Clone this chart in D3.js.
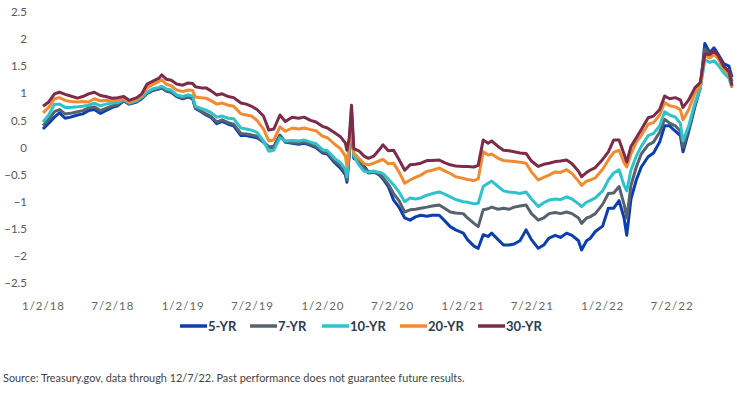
<!DOCTYPE html>
<html>
<head>
<meta charset="utf-8">
<script src="https://cdn.jsdelivr.net/npm/d3@7"></script>
<style>
  body { margin: 0; background: #fff; }
  svg { display: block; font-family: Lato, "Open Sans", sans-serif; }
</style>
</head>
<body>
<script>
var dates = ["2018-01-02","2018-01-17","2018-02-01","2018-02-14","2018-03-01","2018-03-15","2018-04-02","2018-04-16","2018-05-01","2018-05-16",
  "2018-06-01","2018-06-15","2018-07-02","2018-07-16","2018-08-01","2018-08-15","2018-09-04","2018-09-17","2018-10-01","2018-10-15",
  "2018-11-01","2018-11-08","2018-11-20","2018-12-03","2018-12-17","2019-01-02","2019-01-16","2019-01-28","2019-02-04","2019-02-19",
  "2019-03-04","2019-03-18","2019-04-01","2019-04-15","2019-05-01","2019-05-15","2019-06-03","2019-06-17","2019-07-01","2019-07-15",
  "2019-08-01","2019-08-15","2019-08-28","2019-09-13","2019-09-27","2019-10-15","2019-11-01","2019-11-15","2019-12-02","2019-12-16",
  "2020-01-02","2020-01-15","2020-02-03","2020-02-18","2020-03-02","2020-03-06","2020-03-12","2020-03-18","2020-03-24","2020-04-06",
  "2020-04-20","2020-05-01","2020-05-15","2020-06-01","2020-06-08","2020-06-22","2020-07-06","2020-07-20","2020-08-04","2020-08-18",
  "2020-09-01","2020-09-15","2020-10-01","2020-10-15","2020-11-02","2020-11-16","2020-12-01","2020-12-15","2021-01-04","2021-01-15",
  "2021-02-01","2021-02-12","2021-02-25","2021-03-10","2021-03-19","2021-04-05","2021-04-19","2021-05-03","2021-05-17","2021-06-01",
  "2021-06-17","2021-07-01","2021-07-19","2021-08-02","2021-08-16","2021-09-01","2021-09-15","2021-10-01","2021-10-15","2021-11-01",
  "2021-11-09","2021-11-22","2021-12-01","2021-12-15","2022-01-03","2022-01-18","2022-02-01","2022-02-15","2022-02-28","2022-03-07",
  "2022-03-18","2022-04-01","2022-04-14","2022-05-02","2022-05-16","2022-06-01","2022-06-14","2022-06-27","2022-07-12","2022-07-25",
  "2022-08-01","2022-08-16","2022-09-01","2022-09-15","2022-09-27","2022-10-10","2022-10-21","2022-11-01","2022-11-15","2022-11-29",
  "2022-12-07"]

var yr5 = [0.34,0.45,0.56,0.64,0.54,0.56,0.60,0.62,0.68,0.70,
  0.63,0.68,0.74,0.77,0.86,0.80,0.84,0.90,1.00,1.05,
  1.08,1.10,1.04,1.02,0.94,0.90,0.93,0.90,0.72,0.66,
  0.60,0.55,0.44,0.48,0.43,0.40,0.22,0.22,0.20,0.18,
  0.10,0.01,0.02,0.23,0.10,0.08,0.06,0.08,0.04,0.00,
  -0.10,-0.12,-0.28,-0.38,-0.50,-0.64,-0.15,0.55,-0.20,-0.25,
  -0.35,-0.45,-0.44,-0.52,-0.58,-0.72,-0.97,-1.10,-1.30,-1.34,
  -1.28,-1.25,-1.27,-1.25,-1.25,-1.35,-1.46,-1.52,-1.58,-1.70,
  -1.82,-1.86,-1.61,-1.64,-1.58,-1.70,-1.80,-1.80,-1.78,-1.72,
  -1.52,-1.70,-1.86,-1.80,-1.67,-1.62,-1.66,-1.58,-1.62,-1.72,
  -1.89,-1.72,-1.68,-1.55,-1.45,-1.12,-1.12,-0.98,-1.30,-1.62,
  -0.95,-0.60,-0.36,-0.17,-0.10,0.10,0.40,0.40,0.30,0.22,
  -0.08,0.30,0.75,1.10,1.92,1.75,1.84,1.72,1.55,1.50,
  1.30]

var yr7 = [0.40,0.52,0.66,0.70,0.62,0.63,0.66,0.68,0.73,0.75,
  0.68,0.72,0.77,0.79,0.87,0.81,0.85,0.91,1.00,1.06,
  1.09,1.11,1.05,1.03,0.95,0.91,0.94,0.91,0.73,0.67,
  0.62,0.57,0.47,0.51,0.46,0.43,0.26,0.25,0.23,0.21,
  0.10,0.00,0.00,0.22,0.10,0.09,0.08,0.10,0.06,0.02,
  -0.08,-0.10,-0.25,-0.34,-0.46,-0.60,-0.10,0.58,-0.18,-0.27,
  -0.38,-0.47,-0.46,-0.50,-0.55,-0.68,-0.85,-0.98,-1.19,-1.15,
  -1.14,-1.12,-1.10,-1.08,-1.06,-1.12,-1.19,-1.21,-1.22,-1.30,
  -1.40,-1.46,-1.15,-1.13,-1.10,-1.14,-1.12,-1.14,-1.10,-1.08,
  -1.06,-1.22,-1.34,-1.30,-1.22,-1.20,-1.22,-1.19,-1.22,-1.30,
  -1.40,-1.30,-1.28,-1.22,-1.05,-0.85,-0.84,-0.72,-1.05,-1.30,
  -0.70,-0.36,-0.12,0.05,0.10,0.28,0.52,0.45,0.40,0.30,
  0.01,0.35,0.78,1.10,1.82,1.70,1.78,1.66,1.48,1.42,
  1.22]

var yr10 = [0.47,0.60,0.80,0.80,0.74,0.74,0.75,0.76,0.78,0.82,
  0.77,0.80,0.82,0.83,0.88,0.82,0.86,0.93,1.02,1.08,
  1.11,1.13,1.08,1.06,0.97,0.94,0.97,0.95,0.76,0.72,
  0.69,0.64,0.56,0.58,0.54,0.53,0.36,0.34,0.32,0.28,
  0.12,-0.07,-0.05,0.18,0.12,0.13,0.12,0.14,0.10,0.07,
  -0.04,-0.06,-0.20,-0.28,-0.40,-0.54,-0.05,0.62,-0.15,-0.32,
  -0.44,-0.45,-0.44,-0.46,-0.48,-0.58,-0.69,-0.82,-1.00,-0.93,
  -0.95,-0.93,-0.88,-0.85,-0.82,-0.86,-0.91,-0.96,-1.00,-1.01,
  -1.04,-1.03,-0.72,-0.66,-0.62,-0.72,-0.80,-0.82,-0.83,-0.85,
  -0.82,-0.95,-1.09,-1.02,-0.97,-0.95,-0.96,-0.91,-0.95,-1.04,
  -1.09,-1.01,-0.98,-0.93,-0.80,-0.60,-0.47,-0.41,-0.70,-0.80,
  -0.42,-0.16,0.02,0.22,0.26,0.40,0.66,0.60,0.56,0.45,
  0.12,0.40,0.82,1.08,1.62,1.57,1.60,1.52,1.38,1.28,
  1.10]

var yr20 = [0.64,0.74,0.90,0.92,0.87,0.85,0.84,0.85,0.84,0.90,
  0.86,0.87,0.86,0.88,0.90,0.84,0.89,0.96,1.10,1.16,
  1.22,1.25,1.17,1.14,1.06,1.03,1.06,1.05,0.93,0.92,
  0.91,0.86,0.80,0.82,0.78,0.76,0.62,0.60,0.58,0.50,
  0.34,0.12,0.14,0.38,0.30,0.36,0.34,0.36,0.33,0.31,
  0.21,0.18,0.06,-0.02,-0.16,-0.35,0.05,0.70,-0.10,-0.20,
  -0.30,-0.32,-0.29,-0.24,-0.22,-0.30,-0.29,-0.45,-0.66,-0.60,
  -0.55,-0.51,-0.44,-0.42,-0.38,-0.43,-0.48,-0.54,-0.57,-0.59,
  -0.61,-0.58,-0.08,-0.14,-0.12,-0.20,-0.24,-0.25,-0.26,-0.27,
  -0.29,-0.45,-0.60,-0.55,-0.51,-0.45,-0.46,-0.41,-0.48,-0.62,
  -0.70,-0.62,-0.60,-0.56,-0.40,-0.23,-0.09,-0.05,-0.28,-0.36,
  -0.12,0.10,0.22,0.43,0.46,0.60,0.83,0.77,0.75,0.70,
  0.51,0.70,1.00,1.14,1.70,1.65,1.72,1.64,1.45,1.35,
  1.12]

var yr30 = [0.76,0.84,0.99,1.02,0.98,0.95,0.91,0.94,0.99,1.02,
  0.96,0.94,0.91,0.92,0.94,0.87,0.92,0.99,1.17,1.22,
  1.28,1.34,1.26,1.24,1.17,1.15,1.19,1.18,1.12,1.10,
  1.10,1.04,0.97,0.99,0.94,0.92,0.82,0.80,0.76,0.70,
  0.58,0.32,0.34,0.60,0.48,0.56,0.54,0.56,0.50,0.47,
  0.39,0.36,0.27,0.20,0.08,-0.05,0.18,0.78,-0.02,-0.06,
  -0.16,-0.20,-0.16,-0.02,0.05,-0.06,-0.05,-0.22,-0.42,-0.32,
  -0.31,-0.29,-0.24,-0.24,-0.23,-0.28,-0.32,-0.34,-0.35,-0.35,
  -0.36,-0.33,0.14,0.08,0.12,0.02,-0.05,-0.06,-0.08,-0.10,
  -0.11,-0.25,-0.35,-0.31,-0.29,-0.26,-0.25,-0.23,-0.30,-0.44,
  -0.54,-0.46,-0.42,-0.37,-0.22,-0.08,0.14,0.14,-0.12,-0.27,
  0.02,0.18,0.33,0.55,0.58,0.70,0.95,0.90,0.92,0.88,
  0.74,0.88,1.10,1.20,1.72,1.72,1.78,1.70,1.50,1.40,
  1.14]

var seriesNames = ["5-YR", "7-YR", "10-YR", "20-YR", "30-YR"]
var seriesColors = ["#0b3fae", "#56636f", "#2ec3cc", "#f28a30", "#7c2b4b"]
var yTicks = [2.5, 2, 1.5, 1, 0.5, 0, -0.5, -1, -1.5, -2, -2.5]
var xTicks = ["2018-01-02","2018-07-02","2019-01-02","2019-07-02","2020-01-02","2020-07-02","2021-01-02","2021-07-02","2022-01-02","2022-07-02"]

var w = 744
var h = 393
var parse = d3.timeParse("%Y-%m-%d")
var fmt = d3.timeFormat("%-m/%-d/%y")

var allSeries = [yr5, yr7, yr10, yr20, yr30].map(function (vals, k) {
  return {
    name: seriesNames[k],
    color: seriesColors[k],
    values: vals.map(function (v, i) { return { date: parse(dates[i]), value: v } })
  }
})

// Scales
var xScale = d3.scaleTime()
  .domain([parse("2018-01-02"), parse("2022-12-07")])
  .range([43, 732])

var yScale = d3.scaleLinear()
  .domain([-2.5, 2.5])
  .range([283, 12])

var svg = d3.select('body').append('svg')
  .attr('width', w)
  .attr('height', h)

// y axis labels only
var yAxis = d3.axisLeft(yScale)
  .tickValues(yTicks)
  .tickSize(0)
  .tickPadding(0)
  .tickFormat(d3.format('~g'))

svg.append('g')
  .attr('transform', 'translate(27,0)')
  .call(yAxis)
  .call(function (g) { g.select('.domain').remove() })
  .selectAll('text')
  .attr('fill', '#595959')
  .style('font-size', '11.5px')
  .style('font-family', 'Lato')

// x axis labels only
var xAxis = d3.axisBottom(xScale)
  .tickValues(xTicks.map(parse))
  .tickSize(0)
  .tickPadding(0)
  .tickFormat(fmt)

svg.append('g')
  .attr('transform', 'translate(0,302)')
  .call(xAxis)
  .call(function (g) { g.select('.domain').remove() })
  .selectAll('text')
  .attr('fill', '#666')
  .style('font-size', '11.5px')
  .style('letter-spacing', '1px')
  .style('font-family', 'Lato')

// lines
var line = d3.line()
  .x(function (d) { return xScale(d.date) })
  .y(function (d) { return yScale(d.value) })

svg.append('g')
  .selectAll('path')
  .data(allSeries)
  .enter()
  .append('path')
  .attr('d', function (d) { return line(d.values) })
  .attr('fill', 'none')
  .attr('stroke', function (d) { return d.color })
  .attr('stroke-width', 3)
  .attr('stroke-linejoin', 'round')

// legend
var legendX = [180, 250, 322, 400, 478]
var legend = svg.append('g')
  .selectAll('g')
  .data(allSeries)
  .enter()
  .append('g')
  .attr('transform', function (d, i) { return 'translate(' + legendX[i] + ',326)' })

legend.append('line')
  .attr('x1', 0).attr('x2', 27)
  .attr('y1', 0).attr('y2', 0)
  .attr('stroke', function (d) { return d.color })
  .attr('stroke-width', 3.5)

legend.append('text')
  .attr('x', 28)
  .attr('y', 4.5)
  .attr('fill', '#2d3a52')
  .style('font-size', '13px')
  .style('font-weight', 'bold')
  .text(function (d) { return d.name })

// source note
svg.append('text')
  .attr('x', 3)
  .attr('y', 382)
  .attr('fill', '#444')
  .style('font-size', '10.9px')
  .text('Source: Treasury.gov, data through 12/7/22. Past performance does not guarantee future results.')
</script>
</body>
</html>
